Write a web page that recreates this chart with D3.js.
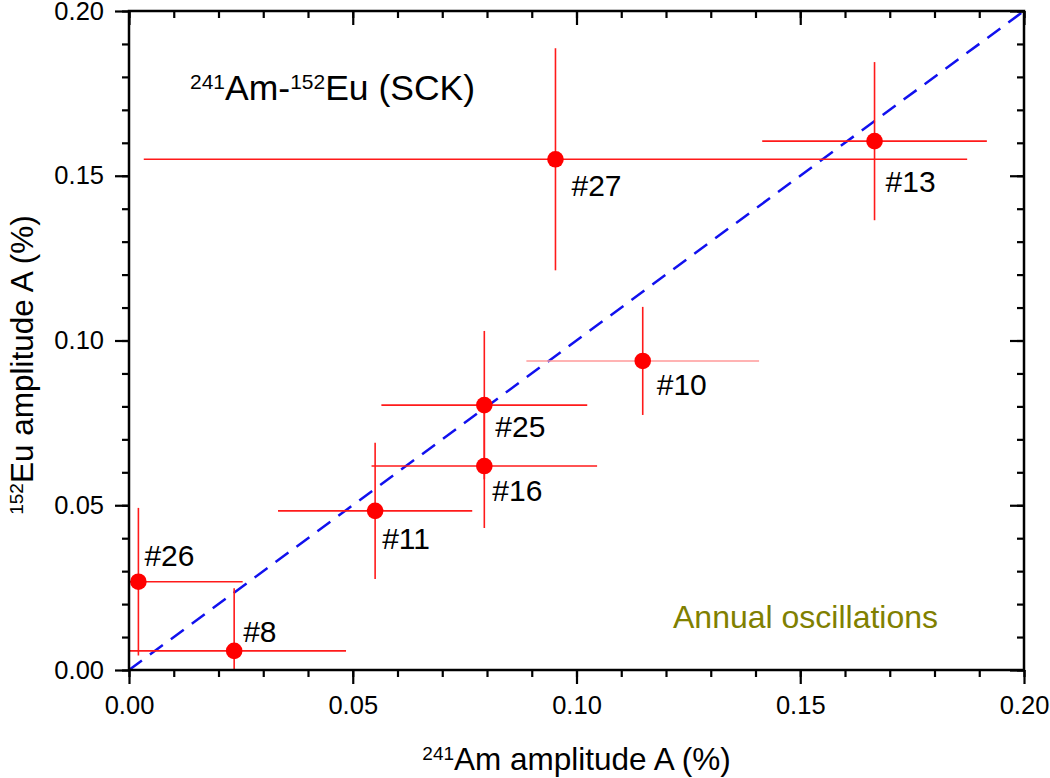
<!DOCTYPE html>
<html><head><meta charset="utf-8">
<script src="https://cdn.jsdelivr.net/npm/d3@7"></script>
<style>
body{margin:0;background:#fff;}
text{font-family:"Liberation Sans",Arial,sans-serif;fill:#000;}
</style></head>
<body><svg id="c" width="1050" height="778"></svg>
<script>
// Data
const ids   = ["#26", "#8", "#11", "#16", "#25", "#27", "#10", "#13"];
const amX   = [0.0021, 0.0235, 0.0550, 0.0794, 0.0794, 0.0953, 0.1148, 0.1666];
const amErr = [0.0233, 0.0250, 0.0217, 0.0252, 0.0230, 0.0920, 0.0260, 0.0251];
const euY   = [0.0268, 0.0058, 0.0483, 0.0619, 0.0804, 0.1550, 0.0938, 0.1605];
const euErr = [0.0224, 0.0190, 0.0207, 0.0188, 0.0225, 0.0337, 0.0164, 0.0240];
const xTicks = [0.00, 0.05, 0.10, 0.15, 0.20];
const yTicks = [0.00, 0.05, 0.10, 0.15, 0.20];
const diag = [[0, 0], [0.2, 0.2]];
// label offsets in pixels (layout)
const labelOffsets = {"#26":[6,-16],"#8":[9,-9],"#11":[7,38],"#16":[8,35],"#25":[11,32],"#27":[16,37],"#10":[14,34],"#13":[11,51]};
const lightXErr = {"#10": true};

const svg = d3.select("#c");
const L = 129, R = 1024, T = 11, B = 670;
const x = d3.scaleLinear().domain([0, 0.2]).range([L, R]);
const y = d3.scaleLinear().domain([0, 0.2]).range([B, T]);
const minor = d3.range(0, 0.2001, 0.01);

const clipX = v => Math.max(0, Math.min(0.2, v));
const clipY = v => Math.max(0, Math.min(0.2, v));

const g = svg.append("g");
// diagonal
g.append("line")
  .attr("x1", x(diag[0][0])).attr("y1", y(diag[0][1]))
  .attr("x2", x(diag[1][0])).attr("y2", y(diag[1][1]))
  .attr("stroke", "#1111ee").attr("stroke-width", 2.5)
  .attr("stroke-dasharray", "16,10");

const data = ids.map((id, i) => ({id, x: amX[i], xe: amErr[i], y: euY[i], ye: euErr[i]}));

// error bars
g.selectAll(".ex").data(data).enter().append("line")
  .attr("x1", d => x(clipX(d.x - d.xe))).attr("x2", d => x(clipX(d.x + d.xe)))
  .attr("y1", d => y(d.y)).attr("y2", d => y(d.y))
  .attr("stroke", d => lightXErr[d.id] ? "#ff9a9a" : "#ff1a1a").attr("stroke-width", 1.6);
g.selectAll(".ey").data(data).enter().append("line")
  .attr("x1", d => x(d.x)).attr("x2", d => x(d.x))
  .attr("y1", d => y(clipY(d.y - d.ye))).attr("y2", d => y(clipY(d.y + d.ye)))
  .attr("stroke", "#ff1a1a").attr("stroke-width", 1.6);
g.selectAll(".pt").data(data).enter().append("circle")
  .attr("cx", d => x(d.x)).attr("cy", d => y(d.y)).attr("r", 8.3)
  .attr("fill", "#ff0000");
g.selectAll(".lb").data(data).enter().append("text")
  .attr("x", d => x(d.x) + labelOffsets[d.id][0])
  .attr("y", d => y(d.y) + labelOffsets[d.id][1])
  .style("font-size", "30px").text(d => d.id);

// axes
const tickFmt = d3.format(".2f");
function styleAxis(sel){
  sel.attr("font-size", null).attr("font-family", null);
  sel.select(".domain").remove();
  sel.selectAll("line").attr("stroke", "#000").attr("stroke-width", 2.2);
  sel.selectAll("text").style("font-size", "25.5px").style("font-family", '"Liberation Sans",Arial,sans-serif').style("fill", "#000");
}
// bottom
const bx = svg.append("g").attr("transform", `translate(0,${B})`)
  .call(d3.axisBottom(x).tickValues(xTicks).tickFormat(tickFmt).tickSize(14).tickPadding(12));
styleAxis(bx);
svg.append("g").attr("transform", `translate(0,${B})`)
  .call(d3.axisBottom(x).tickValues(minor).tickFormat("").tickSize(7)).call(styleAxis);
// left
const ly = svg.append("g").attr("transform", `translate(${L},0)`)
  .call(d3.axisLeft(y).tickValues(yTicks).tickFormat(tickFmt).tickSize(14).tickPadding(11));
styleAxis(ly);
svg.append("g").attr("transform", `translate(${L},0)`)
  .call(d3.axisLeft(y).tickValues(minor).tickFormat("").tickSize(7)).call(styleAxis);
// top (inward)
svg.append("g").attr("transform", `translate(0,${T})`)
  .call(d3.axisBottom(x).tickValues(xTicks).tickFormat("").tickSize(14)).call(styleAxis);
svg.append("g").attr("transform", `translate(0,${T})`)
  .call(d3.axisBottom(x).tickValues(minor).tickFormat("").tickSize(7)).call(styleAxis);
// right (inward)
svg.append("g").attr("transform", `translate(${R},0)`)
  .call(d3.axisLeft(y).tickValues(yTicks).tickFormat("").tickSize(14)).call(styleAxis);
svg.append("g").attr("transform", `translate(${R},0)`)
  .call(d3.axisLeft(y).tickValues(minor).tickFormat("").tickSize(7)).call(styleAxis);
// frame
svg.append("rect").attr("x", L).attr("y", T).attr("width", R - L).attr("height", B - T)
  .attr("fill", "none").attr("stroke", "#000").attr("stroke-width", 2.5);

// titles
function sup(t, parts){
  parts.forEach(p => {
    const ts = t.append("tspan").text(p[0]).style("font-size", p[1] + "px");
    if (p[2]) ts.attr("baseline-shift", p[2]);
  });
}
const xt = svg.append("text").attr("x", (L + R) / 2).attr("y", 770).attr("text-anchor", "middle").style("font-size", "31.5px");
sup(xt, [["241", 19, "super"], ["Am amplitude A (%)", 31.5]]);
const yt = svg.append("text").attr("transform", `translate(33,365) rotate(-90)`).attr("text-anchor", "middle").style("font-size", "31.5px");
sup(yt, [["152", 19, "super"], ["Eu amplitude A (%)", 31.5]]);

const tt = svg.append("text").attr("x", 190).attr("y", 100).style("font-size", "35.5px");
sup(tt, [["241", 21, "super"], ["Am-", 35.5], ["152", 21, "super"], ["Eu (SCK)", 35.5]]);

svg.append("text").attr("x", 673).attr("y", 628).style("font-size", "32px").style("fill", "#808000").text("Annual oscillations");
</script></body></html>
